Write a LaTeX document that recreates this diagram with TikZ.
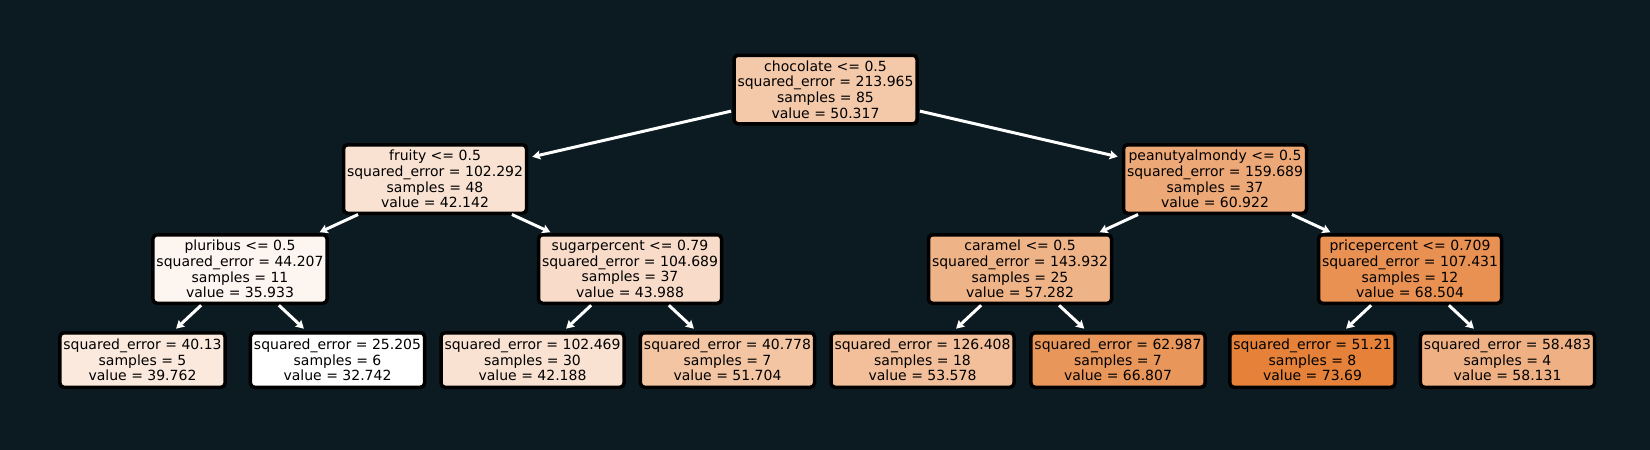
\documentclass[tikz,border=0pt]{standalone}
\usepackage{fontspec}
\setmainfont{DejaVu Sans}
\usetikzlibrary{arrows.meta}
\definecolor{bg}{RGB}{12,27,34}
\definecolor{c0}{RGB}{244,201,170}
\definecolor{c1}{RGB}{249,226,210}
\definecolor{c2}{RGB}{253,245,240}
\definecolor{c3}{RGB}{251,233,221}
\definecolor{c4}{RGB}{255,255,255}
\definecolor{c5}{RGB}{248,220,201}
\definecolor{c6}{RGB}{249,226,209}
\definecolor{c7}{RGB}{243,197,163}
\definecolor{c8}{RGB}{237,168,119}
\definecolor{c9}{RGB}{239,179,136}
\definecolor{c10}{RGB}{242,191,154}
\definecolor{c11}{RGB}{233,150,90}
\definecolor{c12}{RGB}{232,145,82}
\definecolor{c13}{RGB}{229,129,57}
\definecolor{c14}{RGB}{239,177,132}
\tikzset{
  tnode/.style={draw=black, line width=3.5pt, rounded corners=4pt, align=center,
    font=\fontsize{14}{15.7}\selectfont, text=black, inner xsep=3.5pt, inner ysep=1pt,
    minimum height=68.5pt, outer sep=0pt},
  leafnode/.style={tnode, minimum height=54.5pt},
  edge/.style={draw=white, line width=3pt, -{Stealth[length=8pt,width=9pt,inset=1.5pt]}, shorten >=6pt, shorten <=3pt}
}
\begin{document}
\begin{tikzpicture}[x=1pt,y=-1pt]
\fill[bg] (0,0) rectangle (1650,450);
\useasboundingbox (0,0) rectangle (1650,450);
\node[tnode, fill=c0] (root) at (825.5,89.5) {chocolate <= 0.5\\squared\_error = 213.965\\samples = 85\\value = 50.317};
\node[tnode, fill=c1] (fruity) at (435,179) {fruity <= 0.5\\squared\_error = 102.292\\samples = 48\\value = 42.142};
\node[tnode, fill=c8] (peanut) at (1215,179) {peanutyalmondy <= 0.5\\squared\_error = 159.689\\samples = 37\\value = 60.922};
\node[tnode, fill=c2] (plur) at (240,269) {pluribus <= 0.5\\squared\_error = 44.207\\samples = 11\\value = 35.933};
\node[tnode, fill=c5] (sugar) at (630,269) {sugarpercent <= 0.79\\squared\_error = 104.689\\samples = 37\\value = 43.988};
\node[tnode, fill=c9] (caramel) at (1020,269) {caramel <= 0.5\\squared\_error = 143.932\\samples = 25\\value = 57.282};
\node[tnode, fill=c12] (price) at (1410,269) {pricepercent <= 0.709\\squared\_error = 107.431\\samples = 12\\value = 68.504};
\node[leafnode, fill=c3] (l1) at (142.5,360) {squared\_error = 40.13\\samples = 5\\value = 39.762};
\node[leafnode, fill=c4] (l2) at (337.5,360) {squared\_error = 25.205\\samples = 6\\value = 32.742};
\node[leafnode, fill=c6] (l3) at (532.5,360) {squared\_error = 102.469\\samples = 30\\value = 42.188};
\node[leafnode, fill=c7] (l4) at (727.5,360) {squared\_error = 40.778\\samples = 7\\value = 51.704};
\node[leafnode, fill=c10] (l5) at (922.5,360) {squared\_error = 126.408\\samples = 18\\value = 53.578};
\node[leafnode, fill=c11] (l6) at (1118,360) {squared\_error = 62.987\\samples = 7\\value = 66.807};
\node[leafnode, fill=c13] (l7) at (1312.5,360) {squared\_error = 51.21\\samples = 8\\value = 73.69};
\node[leafnode, fill=c14] (l8) at (1507.5,360) {squared\_error = 58.483\\samples = 4\\value = 58.131};
\draw[edge] (root) -- (fruity);
\draw[edge] (root) -- (peanut);
\draw[edge] (fruity) -- (plur);
\draw[edge] (fruity) -- (sugar);
\draw[edge] (peanut) -- (caramel);
\draw[edge] (peanut) -- (price);
\draw[edge] (plur) -- (l1);
\draw[edge] (plur) -- (l2);
\draw[edge] (sugar) -- (l3);
\draw[edge] (sugar) -- (l4);
\draw[edge] (caramel) -- (l5);
\draw[edge] (caramel) -- (l6);
\draw[edge] (price) -- (l7);
\draw[edge] (price) -- (l8);
\end{tikzpicture}
\end{document}
